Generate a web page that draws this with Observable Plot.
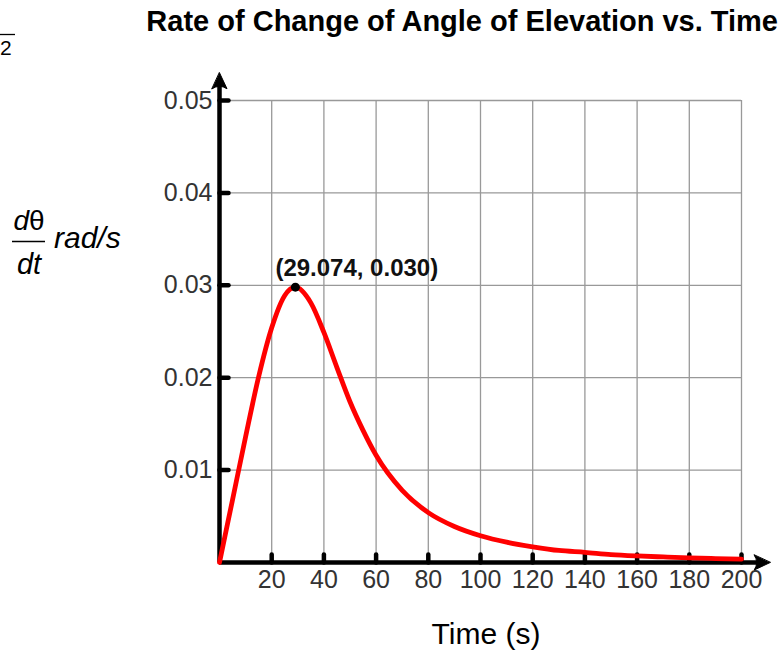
<!DOCTYPE html>
<html>
<head>
<meta charset="utf-8">
<script src="https://cdn.jsdelivr.net/npm/d3@7"></script>
<script src="https://cdn.jsdelivr.net/npm/@observablehq/plot@0.6"></script>
<style>
  html, body { margin: 0; padding: 0; background: #fff; }
  #chart svg { display: block; }
</style>
</head>
<body>
<div id="chart"></div>
<script>
// ---- data ----
const timeValues = [0, 2.5, 5, 10, 15, 20, 25, 29.074, 35, 40, 45, 50, 55, 60, 70, 80, 90, 100, 110, 120, 130, 140, 150, 160, 170, 180, 190, 200];
const rateValues = [0, 0.0034, 0.0068, 0.0136, 0.0201, 0.0254, 0.0289, 0.0298, 0.0281, 0.0249, 0.0211, 0.0174, 0.0143, 0.0116, 0.0078, 0.0054, 0.0039, 0.0029, 0.0022, 0.0017, 0.0013, 0.0011, 0.00086, 0.00071, 0.0006, 0.0005, 0.00043, 0.00037];
const xTicks = [20, 40, 60, 80, 100, 120, 140, 160, 180, 200];
const yTicks = [0.01, 0.02, 0.03, 0.04, 0.05];
const peakTime = 29.074;
const peakRate = 0.0298;
const peakLabel = "(29.074, 0.030)";
const xDomain = [0, 200];
const yDomain = [0, 0.05];
const xAxisEnd = 211;     // where the x-axis arrow tip sits
const yAxisEnd = 0.053;   // where the y-axis arrow tip sits

const points = timeValues.map((t, i) => ({t, r: rateValues[i]}));
const peak = [{t: peakTime, r: peakRate, label: peakLabel}];

const FONT = "'Liberation Sans', Arial, Helvetica, sans-serif";

// custom vector shapes
const tickShape = {draw(ctx, l) { ctx.moveTo(0, 0); ctx.lineTo(0, -l); }};
const headShape = {draw(ctx, l) {
  ctx.moveTo(0, -l);
  ctx.lineTo(7.5, 0);
  ctx.quadraticCurveTo(0, -5, -7.5, 0);
  ctx.closePath();
}};

const chart = Plot.plot({
  width: 780,
  height: 651,
  marginLeft: 219,
  marginRight: 39,
  marginTop: 100,
  marginBottom: 89,
  style: {background: "#fff", fontFamily: FONT, overflow: "visible"},
  x: {domain: xDomain},
  y: {domain: yDomain},
  marks: [
    Plot.gridX(xTicks, {stroke: "#999", strokeOpacity: 1, strokeWidth: 1.3}),
    Plot.gridY(yTicks, {stroke: "#999", strokeOpacity: 1, strokeWidth: 1.3}),
    Plot.axisX(xTicks, {tickSize: 0, tickPadding: 8, fontSize: 25, fill: "#333", label: null, tickFormat: d => String(d)}),
    Plot.axisY(yTicks, {tickSize: 0, tickPadding: 7, fontSize: 25, fill: "#333", label: null, tickFormat: d => d.toFixed(2)}),
    // inward tick stubs
    Plot.vector(xTicks, {x: d => d, y: 0, length: 8, rotate: 0, anchor: "start", shape: tickShape, stroke: "black", strokeWidth: 4.5}),
    Plot.vector(yTicks, {x: 0, y: d => d, length: 9, rotate: 90, anchor: "start", shape: tickShape, stroke: "black", strokeWidth: 4.5}),
    // axis lines
    Plot.ruleY([0], {x1: 0, x2: xAxisEnd - 4, stroke: "black", strokeWidth: 4.5}),
    Plot.ruleX([0], {y1: 0, y2: yAxisEnd - 0.0008, stroke: "black", strokeWidth: 4.5}),
    // arrowheads
    Plot.vector([0], {x: xAxisEnd, y: 0, length: 16, rotate: 90, anchor: "end", shape: headShape, fill: "black", stroke: "black", strokeWidth: 1}),
    Plot.vector([0], {x: 0, y: yAxisEnd, length: 16, rotate: 0, anchor: "end", shape: headShape, fill: "black", stroke: "black", strokeWidth: 1}),
    // curve
    Plot.line(points, {x: "t", y: "r", stroke: "red", strokeWidth: 4.8, curve: "monotone-x"}),
    // peak
    Plot.dot(peak, {x: "t", y: "r", r: 4.5, fill: "black"}),
    Plot.text(peak, {x: "t", y: "r", text: "label", textAnchor: "start", lineAnchor: "bottom", dx: -20, dy: -11, fontSize: 24, fontWeight: "bold", fill: "#111", fontFamily: FONT})
  ]
});

const svg = d3.select(chart);

// title
svg.append("text")
  .attr("x", 778).attr("y", 31)
  .attr("text-anchor", "end")
  .attr("font-family", FONT).attr("font-weight", "bold").attr("font-size", 29)
  .attr("fill", "#000")
  .text("Rate of Change of Angle of Elevation vs. Time");

// leftover fraction fragment at top-left
svg.append("line").attr("x1", 0).attr("x2", 15).attr("y1", 34.5).attr("y2", 34.5)
  .attr("stroke", "#000").attr("stroke-width", 1.3);
svg.append("text").attr("x", 0).attr("y", 55).attr("text-anchor", "start")
  .attr("font-family", FONT).attr("font-size", 21).attr("fill", "#000").text("2");

// y-axis label: dθ/dt rad/s
const dth = svg.append("text").attr("x", 29).attr("y", 230).attr("text-anchor", "middle")
  .attr("font-family", FONT).attr("font-size", 28).attr("fill", "#000");
dth.append("tspan").attr("font-style", "italic").text("d");
dth.append("tspan").text("θ");
svg.append("line").attr("x1", 12).attr("x2", 45).attr("y1", 241.5).attr("y2", 241.5)
  .attr("stroke", "#000").attr("stroke-width", 1.5);
svg.append("text").attr("x", 29).attr("y", 274).attr("text-anchor", "middle")
  .attr("font-family", FONT).attr("font-size", 29).attr("font-style", "italic").attr("fill", "#000")
  .text("dt");
svg.append("text").attr("x", 54).attr("y", 248).attr("text-anchor", "start")
  .attr("font-family", FONT).attr("font-size", 30).attr("font-style", "italic").attr("fill", "#000")
  .text("rad/s");

// x-axis label
svg.append("text").attr("x", 486).attr("y", 644).attr("text-anchor", "middle")
  .attr("font-family", FONT).attr("font-size", 30).attr("fill", "#000")
  .text("Time (s)");

document.getElementById("chart").appendChild(chart);
</script>
</body>
</html>
